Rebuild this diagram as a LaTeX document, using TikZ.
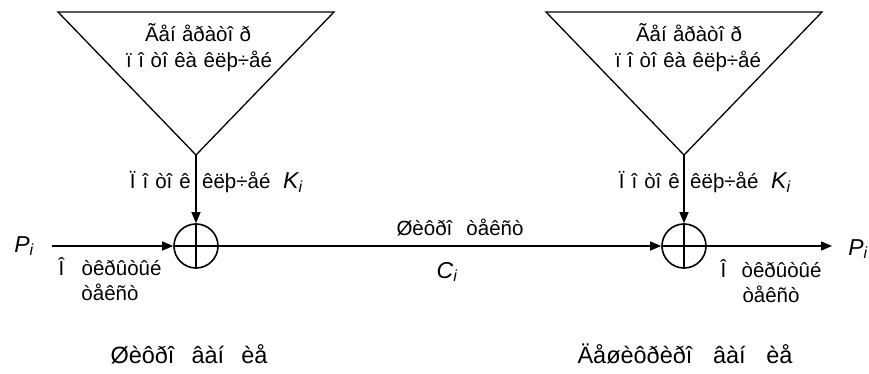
\documentclass[tikz,border=0pt]{standalone}
\usepackage{fontspec}
\setmainfont{Liberation Sans}
\usetikzlibrary{arrows.meta}
\newcommand{\fitw}[2]{\hbox to #1{\spaceskip=0.25em plus 1fil minus 0.15em\relax #2}}
\tikzset{
  ln/.style={line width=1.4pt},
  arr/.style={ln, -{Triangle[length=11pt,width=9pt]}},
  xor/.style={circle, draw, line width=1.6pt, minimum size=44pt, inner sep=0pt},
  tri/.style={line width=1.3pt, line join=miter},
  lbl/.style={font=\fontsize{20.5}{24}\selectfont, inner sep=0pt, anchor=base},
  big/.style={font=\fontsize{23.5}{28}\selectfont, inner sep=0pt, anchor=base},
  sym/.style={font=\fontsize{23}{26}\selectfont\itshape, inner sep=0pt, anchor=base}
}
\begin{document}
\begin{tikzpicture}[x=1pt,y=-1pt]
\useasboundingbox (0,0) rectangle (869,374);
% triangles (key stream generators)
\coordinate (t1a) at (58,12);
\coordinate (t1b) at (334,12);
\coordinate (g1) at (196,155);
\coordinate (t2a) at (546,12);
\coordinate (t2b) at (822,12);
\coordinate (g2) at (684,155);
\draw[tri] (t1a) -- (t1b) -- (g1) -- cycle;
\draw[tri] (t2a) -- (t2b) -- (g2) -- cycle;
\node[lbl] (gen1a) at (198,42) {\fitw{106pt}{Ãåí åðàòî ð}};
\node[lbl] (gen1b) at (199,68) {\fitw{146pt}{ï î òî êà êëþ÷åé}};
\node[lbl] (gen2a) at (689,42) {\fitw{106pt}{Ãåí åðàòî ð}};
\node[lbl] (gen2b) at (688,68) {\fitw{146pt}{ï î òî êà êëþ÷åé}};
% xor nodes
\node[xor] (x1) at (196,246) {};
\node[xor] (x2) at (684,246) {};
\draw[ln] (x1.north) -- (x1.south) (x1.west) -- (x1.east);
\draw[ln] (x2.north) -- (x2.south) (x2.west) -- (x2.east);
% key arrows
\draw[arr] (g1) -- (x1.north);
\draw[arr] (g2) -- (x2.north);
\node[lbl, anchor=base east] (k1a) at (191,189) {\fitw{61pt}{Ï î òî ê}};
\node[lbl, anchor=base west] (k1b) at (202,189) {êëþ÷åé};
\node[sym, anchor=base west] (k1) at (283,189) {K\textsubscript{i}};
\node[lbl, anchor=base east] (k2a) at (680,189) {\fitw{61pt}{Ï î òî ê}};
\node[lbl, anchor=base west] (k2b) at (690,189) {êëþ÷åé};
\node[sym, anchor=base west] (k2) at (771,189) {K\textsubscript{i}};
% main line
\node[sym] (p1) at (24,252) {P\textsubscript{i}};
\node[sym] (p2) at (858,255) {P\textsubscript{i}};
\coordinate (in1) at (52,246);
\coordinate (out2) at (832,246);
\draw[arr] (in1) -- (x1.west);
\draw[arr] (x1.east) -- (x2.west);
\draw[arr] (x2.east) -- (out2);
\node[lbl] (ct) at (460,235) {\fitw{127pt}{Øèôðî òåêñò}};
\node[sym] (ci) at (447,278) {C\textsubscript{i}};
\node[lbl] (pt1a) at (110,275) {\fitw{103pt}{Î òêðûòûé}};
\node[lbl] (pt1b) at (110,300) {òåêñò};
\node[lbl] (pt2a) at (771,277) {\fitw{101pt}{Î òêðûòûé}};
\node[lbl] (pt2b) at (771,302) {òåêñò};
% captions
\node[big] (enc) at (189,363) {\fitw{157pt}{Øèôðî âàí èå}};
\node[big] (dec) at (685,363) {\fitw{215pt}{Äåøèôðèðî âàí èå}};
\end{tikzpicture}
\end{document}
